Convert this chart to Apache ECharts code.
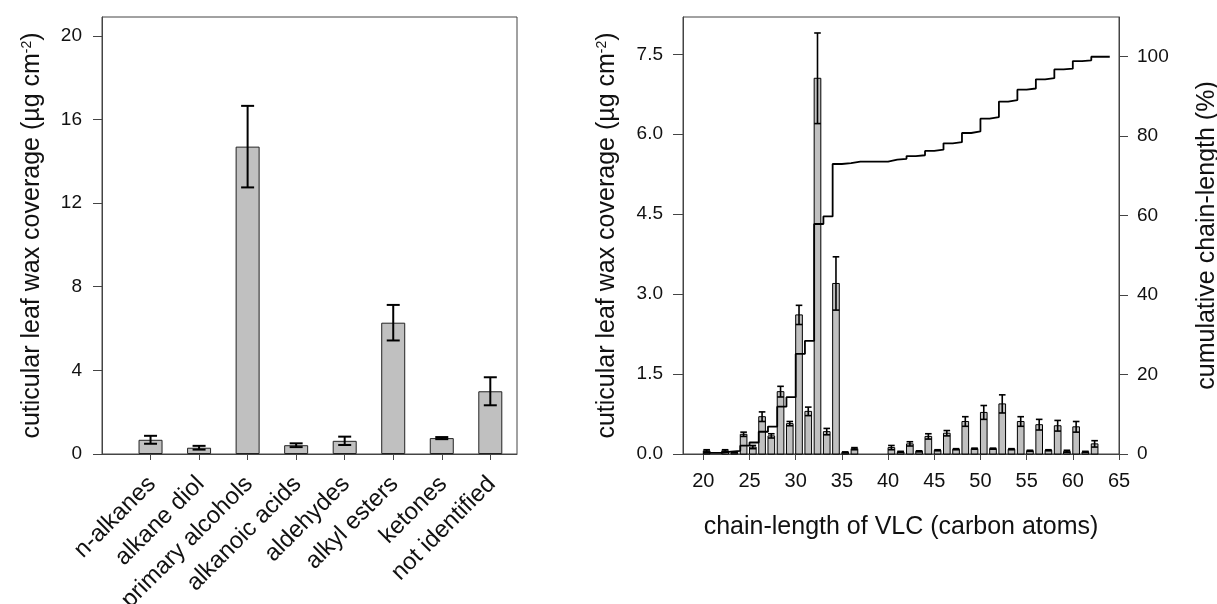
<!DOCTYPE html>
<html>
<head>
<meta charset="utf-8">
<script src="https://cdn.jsdelivr.net/npm/echarts@6/dist/echarts.min.js"></script>
<style>
html,body{margin:0;padding:0;background:#fff;}
#chart{width:1217px;height:604px;}
</style>
</head>
<body>
<div id="chart"></div>
<script>
// ---------- Left panel: wax classes ----------
const classNames = ['n-alkanes','alkane diol','primary alcohols','alkanoic acids','aldehydes','alkyl esters','ketones','not identified'];
const classValues = [0.68, 0.30, 14.70, 0.42, 0.63, 6.28, 0.76, 3.00];
const classErrors = [0.19, 0.09, 1.95, 0.09, 0.20, 0.85, 0.05, 0.67];
const leftTicks = [0, 4, 8, 12, 16, 20];

// ---------- Right panel: chain-length distribution ----------
const carbonAtoms = [20,22,23,24,25,26,27,28,29,30,31,32,33,34,35,36,40,41,42,43,44,45,46,47,48,49,50,51,52,53,54,55,56,57,58,59,60,61,62];
const chainCoverage = [0.06,0.06,0.03,0.37,0.13,0.70,0.34,1.17,0.57,2.61,0.80,7.05,0.42,3.20,0.03,0.10,0.12,0.04,0.19,0.05,0.33,0.07,0.39,0.09,0.61,0.10,0.78,0.10,0.94,0.09,0.61,0.06,0.55,0.07,0.53,0.05,0.51,0.04,0.19];
const chainErrors = [0.02,0.02,0.01,0.04,0.03,0.09,0.04,0.10,0.04,0.18,0.08,0.85,0.06,0.50,0.01,0.02,0.04,0.01,0.04,0.01,0.05,0.01,0.05,0.01,0.09,0.01,0.13,0.01,0.17,0.01,0.09,0.01,0.10,0.01,0.10,0.02,0.10,0.01,0.06];
const cumCarbon = [20,21,22,23,24,25,26,27,28,29,30,31,32,33,34,35,36,37,38,39,40,41,42,43,44,45,46,47,48,49,50,51,52,53,54,55,56,57,58,59,60,61,62,63,64];
const cumPercent = [0.3,0.3,0.6,0.8,2.1,2.9,5.6,6.9,11.9,14.3,25.2,28.5,57.9,59.8,73.0,73.2,73.6,73.6,73.6,73.6,74.1,74.3,75.0,75.2,76.3,76.6,78.2,78.5,80.8,81.2,84.4,84.8,88.7,89.1,91.7,92.0,94.3,94.6,96.8,97.0,98.9,99.1,100,100,100];
const xTicksRight = [20,25,30,35,40,45,50,55,60,65];
const yTicksRight = [0,1.5,3.0,4.5,6.0,7.5];
const y2TicksRight = [0,20,40,60,80,100];

const FONT = 'Liberation Sans, Arial, sans-serif';
const TXT = '#111';
const AXC = '#444';
const BAR_FILL = '#c0c0c0';
const BAR_SPAN = 0.72; // bar width in carbon units (left edge at the carbon number)

const chart = echarts.init(document.getElementById('chart'), null, {renderer: 'canvas'});

const leftBarData = classValues.map((v, i) => [i + 1, v]);
const leftErrData = classValues.map((v, i) => [i + 1, v, classErrors[i]]);
const rightBarData = carbonAtoms.map((c, i) => [c, chainCoverage[i], chainErrors[i]]);
const cumData = cumCarbon.map((c, i) => [c, cumPercent[i]]);

const titleRich = {
  a: {fontSize: 25, fontFamily: FONT, color: TXT, lineHeight: 25},
  s: {fontSize: 14, fontFamily: FONT, color: TXT, lineHeight: 14, verticalAlign: 'top'}
};
const yTitle = '{a|cuticular leaf wax coverage (µg cm}{s|-2}{a|)}';

function axisCommon() {
  return {
    axisLine: {show: true, onZero: false, lineStyle: {color: AXC, width: 1}},
    splitLine: {show: false},
  };
}

const option = {
  backgroundColor: '#fff',
  animation: false,
  grid: [
    {left: 102, right: 700, top: 17, bottom: 150, show: true, borderColor: AXC, borderWidth: 1, backgroundColor: 'transparent', containLabel: false, outerBoundsMode: 'none'},
    {left: 683, right: 98, top: 17, bottom: 150, show: true, borderColor: AXC, borderWidth: 1, backgroundColor: 'transparent', containLabel: false, outerBoundsMode: 'none'}
  ],
  xAxis: [
    Object.assign(axisCommon(), {
      gridIndex: 0, type: 'value', min: 0, max: 8.55,
      axisTick: {show: true, length: 6, lineStyle: {color: AXC}, customValues: [1,2,3,4,5,6,7,8]},
      axisLabel: {
        customValues: [1,2,3,4,5,6,7,8],
        formatter: v => classNames[Math.round(v) - 1] || '',
        rotate: 45, align: 'right', verticalAlign: 'top', lineHeight: 4, margin: 25,
        fontSize: 24, fontFamily: FONT, color: TXT
      }
    }),
    Object.assign(axisCommon(), {
      gridIndex: 1, type: 'value', min: 17.8, max: 65,
      axisTick: {show: true, length: 6, lineStyle: {color: AXC}, customValues: xTicksRight},
      axisLabel: {customValues: xTicksRight, margin: 17, fontSize: 20, fontFamily: FONT, color: TXT},
      name: 'chain-length of VLC (carbon atoms)', nameLocation: 'middle', nameGap: 61,
      nameTextStyle: {fontSize: 25, fontFamily: FONT, color: TXT}
    })
  ],
  yAxis: [
    Object.assign(axisCommon(), {
      gridIndex: 0, type: 'value', min: 0, max: 20.9,
      axisTick: {show: true, length: 9, lineStyle: {color: AXC}, customValues: leftTicks},
      axisLabel: {customValues: leftTicks, margin: 20, fontSize: 19, fontFamily: FONT, color: TXT},
      name: yTitle, nameLocation: 'middle', nameRotate: 90, nameGap: 57,
      nameTextStyle: {rich: titleRich}
    }),
    Object.assign(axisCommon(), {
      gridIndex: 1, type: 'value', min: 0, max: 8.2,
      axisTick: {show: true, length: 10, lineStyle: {color: AXC}, customValues: yTicksRight},
      axisLabel: {customValues: yTicksRight, formatter: v => v.toFixed(1), margin: 20, fontSize: 19, fontFamily: FONT, color: TXT},
      name: yTitle, nameLocation: 'middle', nameRotate: 90, nameGap: 63,
      nameTextStyle: {rich: titleRich}
    }),
    Object.assign(axisCommon(), {
      gridIndex: 1, type: 'value', position: 'right', min: 0, max: 110,
      axisTick: {show: true, length: 9, lineStyle: {color: AXC}, customValues: y2TicksRight},
      axisLabel: {customValues: y2TicksRight, margin: 18, fontSize: 19, fontFamily: FONT, color: TXT},
      name: 'cumulative chain-length (%)', nameLocation: 'middle', nameRotate: 90, nameGap: 76,
      nameTextStyle: {fontSize: 25, fontFamily: FONT, color: TXT}
    })
  ],
  series: [
    {
      type: 'bar', xAxisIndex: 0, yAxisIndex: 0, data: leftBarData, barWidth: 24,
      itemStyle: {color: BAR_FILL, borderColor: '#222', borderWidth: 1}, z: 2
    },
    {
      type: 'custom', xAxisIndex: 0, yAxisIndex: 0, data: leftErrData, z: 3,
      encode: {x: 0, y: 1},
      renderItem: function (params, api) {
        const x = api.value(0), v = api.value(1), e = api.value(2);
        const top = api.coord([x, v + e]);
        const bot = api.coord([x, v - e]);
        const hw = 6.5;
        const st = {stroke: '#000', lineWidth: 2};
        return {type: 'group', children: [
          {type: 'line', shape: {x1: top[0], y1: top[1], x2: bot[0], y2: bot[1]}, style: st},
          {type: 'line', shape: {x1: top[0] - hw, y1: top[1], x2: top[0] + hw, y2: top[1]}, style: st},
          {type: 'line', shape: {x1: bot[0] - hw, y1: bot[1], x2: bot[0] + hw, y2: bot[1]}, style: st}
        ]};
      }
    },
    {
      type: 'custom', xAxisIndex: 1, yAxisIndex: 1, data: rightBarData, z: 2,
      encode: {x: 0, y: 1},
      renderItem: function (params, api) {
        const c = api.value(0), v = api.value(1);
        const p0 = api.coord([c, 0]);
        const p1 = api.coord([c + BAR_SPAN, v]);
        return {type: 'rect', shape: {x: p0[0], y: p1[1], width: p1[0] - p0[0], height: p0[1] - p1[1]},
          style: {fill: BAR_FILL, stroke: '#000', lineWidth: 1}};
      }
    },
    {
      type: 'custom', xAxisIndex: 1, yAxisIndex: 1, data: rightBarData, z: 3,
      encode: {x: 0, y: 1},
      renderItem: function (params, api) {
        const c = api.value(0), v = api.value(1), e = api.value(2);
        const top = api.coord([c + BAR_SPAN / 2, v + e]);
        const bot = api.coord([c + BAR_SPAN / 2, Math.max(v - e, 0)]);
        const hw = 3.3;
        const st = {stroke: '#000', lineWidth: 1.6};
        return {type: 'group', children: [
          {type: 'line', shape: {x1: top[0], y1: top[1], x2: bot[0], y2: bot[1]}, style: st},
          {type: 'line', shape: {x1: top[0] - hw, y1: top[1], x2: top[0] + hw, y2: top[1]}, style: st},
          {type: 'line', shape: {x1: bot[0] - hw, y1: bot[1], x2: bot[0] + hw, y2: bot[1]}, style: st}
        ]};
      }
    },
    {
      type: 'line', xAxisIndex: 1, yAxisIndex: 2, data: cumData, step: 'end',
      showSymbol: false, symbol: 'none', z: 4,
      lineStyle: {color: '#000', width: 1.8}
    }
  ]
};
chart.setOption(option);
</script>
</body>
</html>
